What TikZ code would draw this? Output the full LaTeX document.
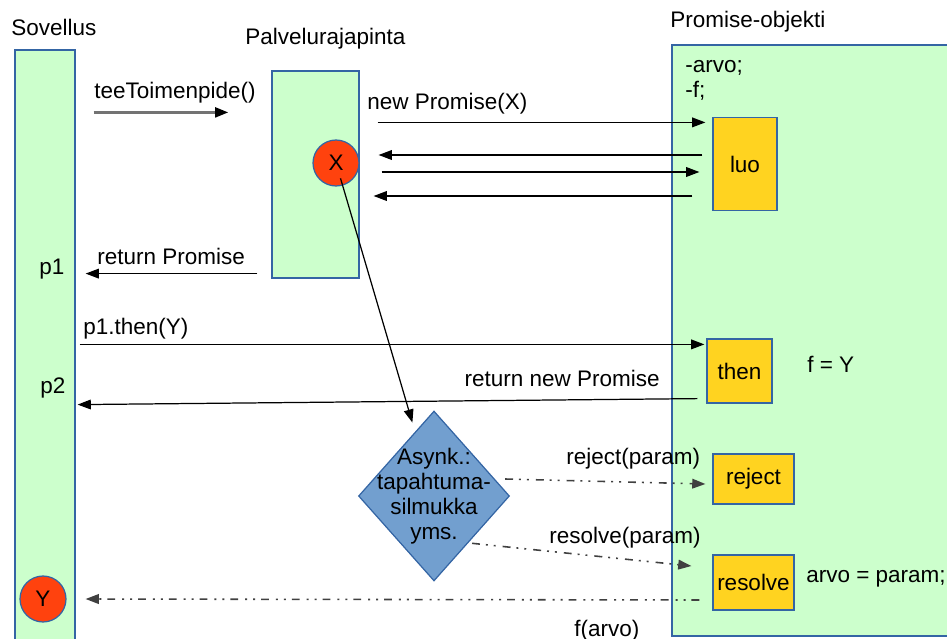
\documentclass[tikz,border=0pt]{standalone}
\usepackage{fontspec}
\setmainfont{Liberation Sans}
\usetikzlibrary{calc}
\usetikzlibrary{arrows.meta,shapes.geometric}
\definecolor{lanegreen}{HTML}{CCFFCC}
\definecolor{edgeblue}{HTML}{3465A4}
\definecolor{boxyellow}{HTML}{FFD320}
\definecolor{dotred}{HTML}{FF420E}
\definecolor{asyncblue}{HTML}{729FCF}

\begin{document}
\begin{tikzpicture}[x=0.02cm, y=-0.02cm,
  font=\fontsize{12.8}{14.2}\selectfont,
  lane/.style={draw=edgeblue, line width=0.7pt, fill=lanegreen, inner sep=0pt},
  method/.style={draw=edgeblue, line width=0.7pt, fill=boxyellow, inner sep=0pt},
  handler/.style={circle, draw=edgeblue, line width=0.7pt, fill=dotred, minimum size=0.92cm, inner sep=0pt},
  eventloop/.style={diamond, draw=edgeblue, line width=0.7pt, fill=asyncblue, minimum width=3.02cm, minimum height=3.4cm, inner sep=0pt},
  txt/.style={anchor=base west, inner sep=0pt},
  call/.style={line width=0.7pt, -{Triangle[length=7.5pt,width=5.5pt]}},
  request/.style={line width=1.6pt, black!55, -{Triangle[length=7.5pt,width=5.5pt,black]}},
  event/.style={call, line width=0.9pt, black!75, dash pattern=on 4.5pt off 3.4pt on 1.1pt off 3.4pt on 1.1pt off 4pt}]
\useasboundingbox (0,0) rectangle (947,639);

% lanes
\node[lane, minimum width=1.2cm, minimum height=12cm] (sov) at (45,350) {};
\node[lane, minimum width=1.74cm, minimum height=4.14cm] (palv) at (315.5,174.5) {};
\node[lane, minimum width=5.76cm, minimum height=11.82cm] (prom) at (816,340.5) {};

\node[txt] (sovtitle) at (11,35) {Sovellus};
\node[txt] (palvtitle) at (245,44) {Palvelurajapinta};
\node[txt] (promtitle) at (670,28) {Promise-objekti};

\node[txt] (arvofield) at (685,72) {-arvo;};
\node[txt] (ffield) at (685,97) {-f;};

% methods
\node[method, minimum width=1.28cm, minimum height=1.86cm] (luo) at (745,164) {luo};
\node[method, minimum width=1.3cm, minimum height=1.28cm] (then) at (739.5,371) {then};
\node[method, minimum width=1.62cm, minimum height=1cm] (reject) at (753.5,479) {reject};
\node[method, minimum width=1.62cm, minimum height=1.1cm] (resolve) at (753.5,582.5) {resolve};

\node[handler] (X) at (336,163) {X};
\node[handler] (Y) at (43,599) {Y};

\node[eventloop, label={[align=center, inner sep=0pt]center:Asynk.:\\tapahtuma-\\silmukka\\yms.}] (asynk) at (434,496) {};

% labels
\node[txt] (tee) at (94,98) {teeToimenpide()};
\node[txt] (retp) at (97,264) {return Promise};
\node[txt] (newp) at (367,109) {new Promise(X)};
\node[txt] (p1) at (39,274) {p1};
\node[txt] (thencall) at (83,334) {p1.then(Y)};
\node[txt] (p2) at (40,393) {p2};
\node[txt, anchor=base east] (retnp) at (660,386) {return new Promise};
\node[txt] (fy) at (807,372) {f = Y};
\node[txt] (rejp) at (566,464) {reject(param)};
\node[txt] (resp) at (549,543) {resolve(param)};
\node[txt] (arvo) at (806,582) {arvo = param;};
\node[txt] (farvo) at (574,636.5) {f(arvo)};

% calls
\draw[request] ($(sov.east |- palv.north)+(18,42)$) -- ($(palv.north west)+(-43,42)$);
\draw[call] ($(palv.south west)+(-14,-5)$) -- ($(sov.east |- palv.south)+(10,-5)$);

\draw[call] ($(palv.east |- luo.north)+(18,5.5)$) -- ($(luo.north west)+(-7,5.5)$);
\draw[call] ($(luo.west)+(-10,-9)$) -- ($(palv.east |- luo.west)+(19,-9)$);
\draw[call] ($(palv.east |- luo.west)+(22,8)$) -- ($(luo.west)+(-13,8)$);
\draw[call] ($(luo.west)+(-20,32)$) -- ($(palv.east |- luo.west)+(14,32)$);

\draw[call] ($(sov.east |- then.north)+(4,6)$) -- ($(then.north west)+(-2,6)$);
\draw[call] ($(then.south west)+(-9,-5)$) -- ($(sov.east |- then.south)+(2,1)$);

\draw[call, shorten <=0.32cm, shorten >=0.19cm] (X.center) -- (asynk);

% async
\draw[event] ($(asynk.east)+(-5,-17)$) -- ($(reject.west)+(-7,5)$);
\draw[event] ($(asynk.south east)+(0,4.5)$) -- ($(resolve.west)+(-21,-16.5)$);
\draw[event] ($(resolve.west)+(-13,17.5)$) -- ($(Y.east)+(19,0)$);

\end{tikzpicture}
\end{document}
